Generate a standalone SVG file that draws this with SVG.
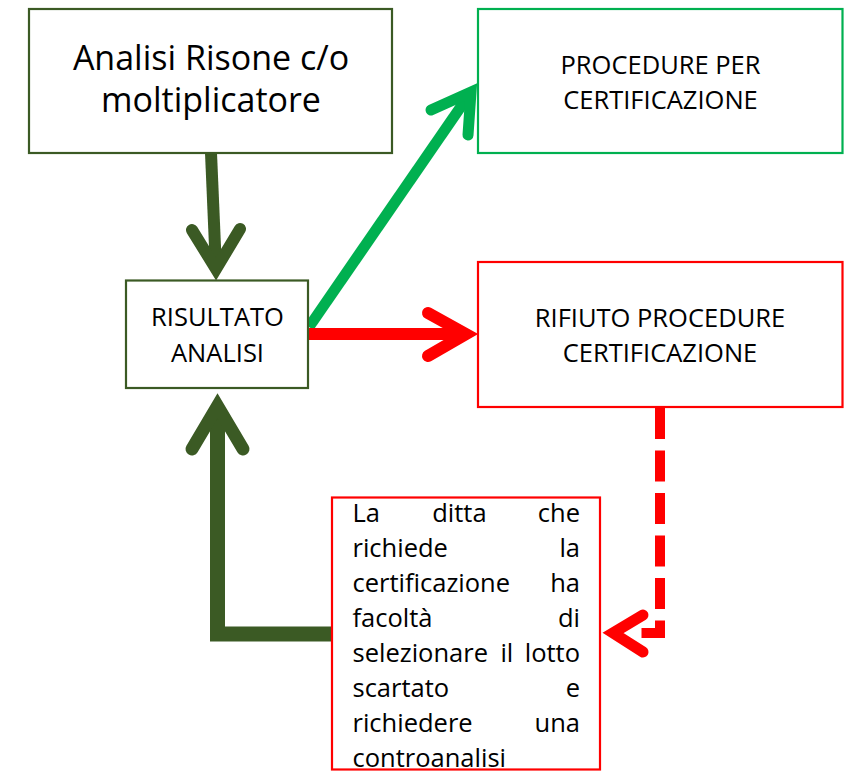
<svg xmlns="http://www.w3.org/2000/svg" width="851" height="772" viewBox="0 0 851 772">
<style>
.box{fill:#fff;stroke-width:2.2}
.dg{stroke:#3B5A24}
.gr{stroke:#00B050}
.rd{stroke:#FF0000}
text{font-family:"Open Sans","Noto Sans","Liberation Sans",sans-serif;fill:#000}
.big{font-size:34px;text-anchor:middle}
.sm{font-size:25.5px;text-anchor:middle}
.jt{font-size:25.5px}
.e{text-anchor:end}
.ln{fill:none;stroke-linejoin:miter;stroke-linecap:butt}
.hd{fill:none;stroke-linejoin:miter;stroke-linecap:round;stroke-miterlimit:10}
</style>
<rect width="851" height="772" fill="#fff"/>
<g id="connectors">
  <g id="c-analisi-risultato">
    <path class="ln dg" stroke-width="12" d="M211,153 L216,270"/>
    <polyline class="hd dg" stroke-width="12" points="192,230 216,269 240,229"/>
  </g>
  <g id="c-risultato-procedure">
    <path class="ln gr" stroke-width="11" d="M309,327 L471,92"/>
    <polyline class="hd gr" stroke-width="11" points="431,110 471,92 468,135"/>
  </g>
  <g id="c-risultato-rifiuto">
    <path class="ln rd" stroke-width="12" d="M308,334 H466"/>
    <polyline class="hd rd" stroke-width="12" points="428,313 466,334 428,356"/>
  </g>
  <g id="c-rifiuto-ditta">
    <path class="ln rd" stroke-width="10" stroke-dasharray="31 11.5" d="M660,408 V633 H641.5"/>
    <polyline class="hd rd" stroke-width="11" points="643,615 613,633 643,652"/>
  </g>
  <g id="c-ditta-risultato">
    <path class="ln dg" stroke-width="15" d="M332,634 H217.5 V406"/>
    <polyline class="hd dg" stroke-width="13" points="192,449 217.5,406 243,449"/>
  </g>
</g>
<g id="node-analisi">
  <rect class="box dg" x="29" y="9" width="363" height="144"/>
  <text class="big" x="211" y="69.5">Analisi Risone c/o</text>
  <text class="big" x="211" y="112">moltiplicatore</text>
</g>
<g id="node-procedure">
  <rect class="box gr" x="478" y="9" width="364.5" height="144"/>
  <text class="sm" x="660.5" y="73.5">PROCEDURE PER</text>
  <text class="sm" x="660.5" y="108.5">CERTIFICAZIONE</text>
</g>
<g id="node-risultato">
  <rect class="box dg" x="126" y="280.5" width="182" height="107.5"/>
  <text class="sm" x="217.5" y="326">RISULTATO</text>
  <text class="sm" x="217.5" y="361.5">ANALISI</text>
</g>
<g id="node-rifiuto">
  <rect class="box rd" x="478" y="262" width="364.5" height="145"/>
  <text class="sm" x="660" y="326.5">RIFIUTO PROCEDURE</text>
  <text class="sm" x="660" y="361.5">CERTIFICAZIONE</text>
</g>
<g id="node-ditta">
  <rect class="box rd" x="332" y="497.5" width="268" height="272"/>
  <text class="jt" x="352.5" y="521.5">La</text>
  <text class="jt" x="432.2" y="521.5">ditta</text>
  <text class="jt e" x="580" y="521.5">che</text>
  <text class="jt" x="352.5" y="556.5">richiede</text>
  <text class="jt e" x="580" y="556.5">la</text>
  <text class="jt" x="352.5" y="591.5">certificazione</text>
  <text class="jt e" x="580" y="591.5">ha</text>
  <text class="jt" x="352.5" y="626.5">facoltà</text>
  <text class="jt e" x="580" y="626.5">di</text>
  <text class="jt" x="352.5" y="661.5">selezionare</text>
  <text class="jt" x="500.4" y="661.5">il</text>
  <text class="jt e" x="580" y="661.5">lotto</text>
  <text class="jt" x="352.5" y="696.5">scartato</text>
  <text class="jt e" x="580" y="696.5">e</text>
  <text class="jt" x="352.5" y="731.5">richiedere</text>
  <text class="jt e" x="580" y="731.5">una</text>
  <text class="jt" x="352.5" y="766.5">controanalisi</text>
</g>
</svg>
